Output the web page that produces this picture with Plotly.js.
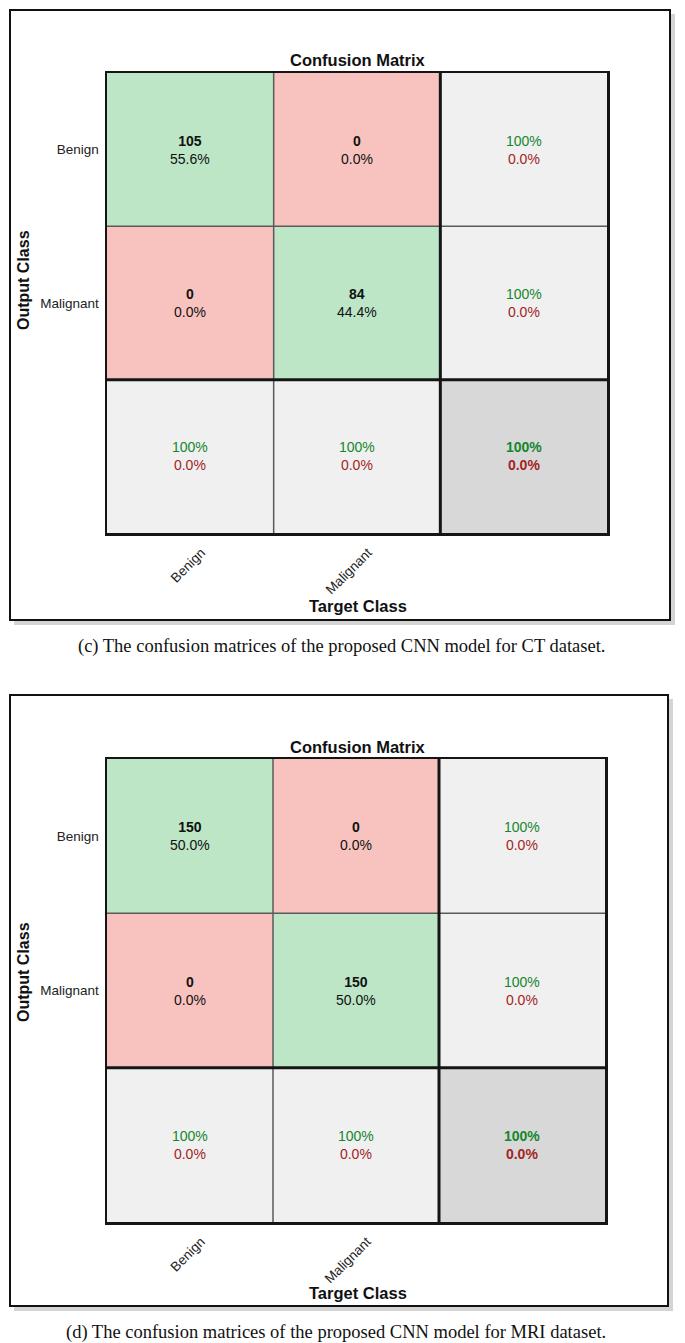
<!DOCTYPE html>
<html>
<head>
<meta charset="utf-8">
<script src="https://cdn.plot.ly/plotly-3.0.1.min.js"></script>
<style>html,body{margin:0;padding:0;background:#fff;}#chart{width:685px;height:1343px;}</style>
</head>
<body>
<div id="chart"></div>
<script>
// ---------- data ----------
const classes = ['Benign', 'Malignant'];

const ctCounts = [[105, 0], [0, 84]];
const ctPct = [[55.6, 0.0], [0.0, 44.4]];
const ctRowCorrect = [100, 100];
const ctRowError = [0.0, 0.0];
const ctColCorrect = [100, 100];
const ctColError = [0.0, 0.0];
const ctOverall = [100, 0.0];

const mriCounts = [[150, 0], [0, 150]];
const mriPct = [[50.0, 0.0], [0.0, 50.0]];
const mriRowCorrect = [100, 100];
const mriRowError = [0.0, 0.0];
const mriColCorrect = [100, 100];
const mriColError = [0.0, 0.0];
const mriOverall = [100, 0.0];

const captions = [
  '(c) The confusion matrices of the proposed CNN model for CT dataset.',
  '(d) The confusion matrices of the proposed CNN model for MRI dataset.'
];

// ---------- page geometry ----------
const W = 685, H = 1343;
const px = v => v / W;
const py = v => 1 - v / H;

const SANS = 'Liberation Sans, Arial, sans-serif';
const SERIF = 'Liberation Serif, Times New Roman, serif';
const GREEN_TXT = '#16862e';
const RED_TXT = '#a32424';

const panels = [
  {counts: ctCounts, pct: ctPct, rc: ctRowCorrect, re: ctRowError, cc: ctColCorrect, ce: ctColError, ov: ctOverall,
   box: [10, 10, 670, 620], mx: [107, 607], my: [73, 533], title: 60, ylab: 280, xlab: 606, cap: 646, capx: 341, ax: ''},
  {counts: mriCounts, pct: mriPct, rc: mriRowCorrect, re: mriRowError, cc: mriColCorrect, ce: mriColError, ov: mriOverall,
   box: [10, 695, 668, 1306], mx: [107, 605], my: [759, 1222], title: 747, ylab: 972, xlab: 1293, cap: 1332, capx: 336, ax: '2'}
];

const data = [];
const shapes = [];
const annotations = [];
const layout = {
  width: W, height: H,
  margin: {l: 0, r: 0, t: 0, b: 0},
  paper_bgcolor: '#ffffff',
  plot_bgcolor: 'rgba(0,0,0,0)',
  showlegend: false,
  shapes: shapes,
  annotations: annotations
};

function note(o) {
  annotations.push(Object.assign({showarrow: false, xanchor: 'center', yanchor: 'middle'}, o));
}

panels.forEach((p, k) => {
  const n = classes.length;
  const xa = 'x' + p.ax, ya = 'y' + p.ax;
  // category code: 0 correct, 1 wrong, 2 summary, 3 overall
  const z = [];
  for (let i = 0; i <= n; i++) {
    const row = [];
    for (let j = 0; j <= n; j++) {
      if (i === n && j === n) row.push(3);
      else if (i === n || j === n) row.push(2);
      else row.push(i === j ? 0 : 1);
    }
    z.push(row);
  }
  const idx = Array.from({length: n + 1}, (_, i) => i);
  data.push({
    type: 'heatmap', z: z, x: idx, y: idx, xaxis: xa, yaxis: ya,
    zmin: 0, zmax: 3, showscale: false, hoverinfo: 'skip',
    colorscale: [[0, '#bde6c6'], [0.1667, '#bde6c6'], [0.1667, '#f8c3bf'], [0.5, '#f8c3bf'],
                 [0.5, '#f0f0f0'], [0.8333, '#f0f0f0'], [0.8333, '#d8d8d8'], [1, '#d8d8d8']]
  });

  const axBase = {
    range: [-0.5, n + 0.5], showgrid: false, zeroline: false,
    showline: true, mirror: true, linewidth: 2.5, linecolor: '#151515',
    ticks: '', fixedrange: true,
    tickfont: {family: SANS, size: 13.5, color: '#222'}
  };
  layout['xaxis' + p.ax] = Object.assign({}, axBase, {
    domain: [px(p.mx[0]), px(p.mx[1])], anchor: ya,
    tickvals: idx.slice(0, n), ticktext: classes, tickangle: -45,
    ticklabelstandoff: 4, ticklabelshift: 11
  });
  layout['yaxis' + p.ax] = Object.assign({}, axBase, {
    domain: [py(p.my[1]), py(p.my[0])], anchor: xa,
    range: [n + 0.5, -0.5],
    tickvals: idx.slice(0, n), ticktext: classes, ticklabelstandoff: 3
  });

  // frame with shadow
  const [bx0, by0, bx1, by1] = p.box;
  shapes.push({type: 'rect', xref: 'paper', yref: 'paper', layer: 'below',
    x0: px(bx0 + 4), x1: px(bx1 + 5), y0: py(by1 + 5), y1: py(by0 + 4),
    fillcolor: '#d4d4d4', line: {width: 0}});
  shapes.push({type: 'rect', xref: 'paper', yref: 'paper', layer: 'below',
    x0: px(bx0), x1: px(bx1), y0: py(by1), y1: py(by0),
    fillcolor: '#ffffff', line: {color: '#111', width: 2}});

  // cell separators
  for (let b = 0; b < n; b++) {
    const pos = b + 0.5;
    const thick = b === n - 1;
    const ln = thick ? {color: '#151515', width: 3} : {color: '#5a5a5a', width: 1.5};
    shapes.push({type: 'line', xref: xa, yref: ya, x0: pos, x1: pos, y0: -0.5, y1: n + 0.5, line: ln});
    shapes.push({type: 'line', xref: xa, yref: ya, x0: -0.5, x1: n + 0.5, y0: pos, y1: pos, line: ln});
  }

  // cell texts
  const cellFont = {family: SANS, size: 14, color: '#111'};
  for (let i = 0; i < n; i++) {
    for (let j = 0; j < n; j++) {
      note({xref: xa, yref: ya, x: j, y: i, font: cellFont,
        text: '<b>' + p.counts[i][j] + '</b><br>' + p.pct[i][j].toFixed(1) + '%'});
    }
    note({xref: xa, yref: ya, x: n, y: i, font: cellFont,
      text: '<span style="color:' + GREEN_TXT + '">' + p.rc[i] + '%</span><br><span style="color:' + RED_TXT + '">' + p.re[i].toFixed(1) + '%</span>'});
    note({xref: xa, yref: ya, x: i, y: n, font: cellFont,
      text: '<span style="color:' + GREEN_TXT + '">' + p.cc[i] + '%</span><br><span style="color:' + RED_TXT + '">' + p.ce[i].toFixed(1) + '%</span>'});
  }
  note({xref: xa, yref: ya, x: n, y: n, font: cellFont,
    text: '<span style="color:' + GREEN_TXT + '"><b>' + p.ov[0] + '%</b></span><br><span style="color:' + RED_TXT + '"><b>' + p.ov[1].toFixed(1) + '%</b></span>'});

  // titles
  note({xref: 'paper', yref: 'paper', x: px(358), y: py(p.title),
    text: '<b>Confusion Matrix</b>', font: {family: SANS, size: 16.5, color: '#111'}});
  note({xref: 'paper', yref: 'paper', x: px(358), y: py(p.xlab),
    text: '<b>Target Class</b>', font: {family: SANS, size: 16.5, color: '#111'}});
  note({xref: 'paper', yref: 'paper', x: px(23), y: py(p.ylab), textangle: -90,
    text: '<b>Output Class</b>', font: {family: SANS, size: 16, color: '#111'}});
  note({xref: 'paper', yref: 'paper', x: px(p.capx), y: py(p.cap),
    text: captions[k], font: {family: SERIF, size: 18.5, color: '#111'}});
});

Plotly.newPlot('chart', data, layout, {staticPlot: true, displayModeBar: false});
</script>
</body>
</html>
